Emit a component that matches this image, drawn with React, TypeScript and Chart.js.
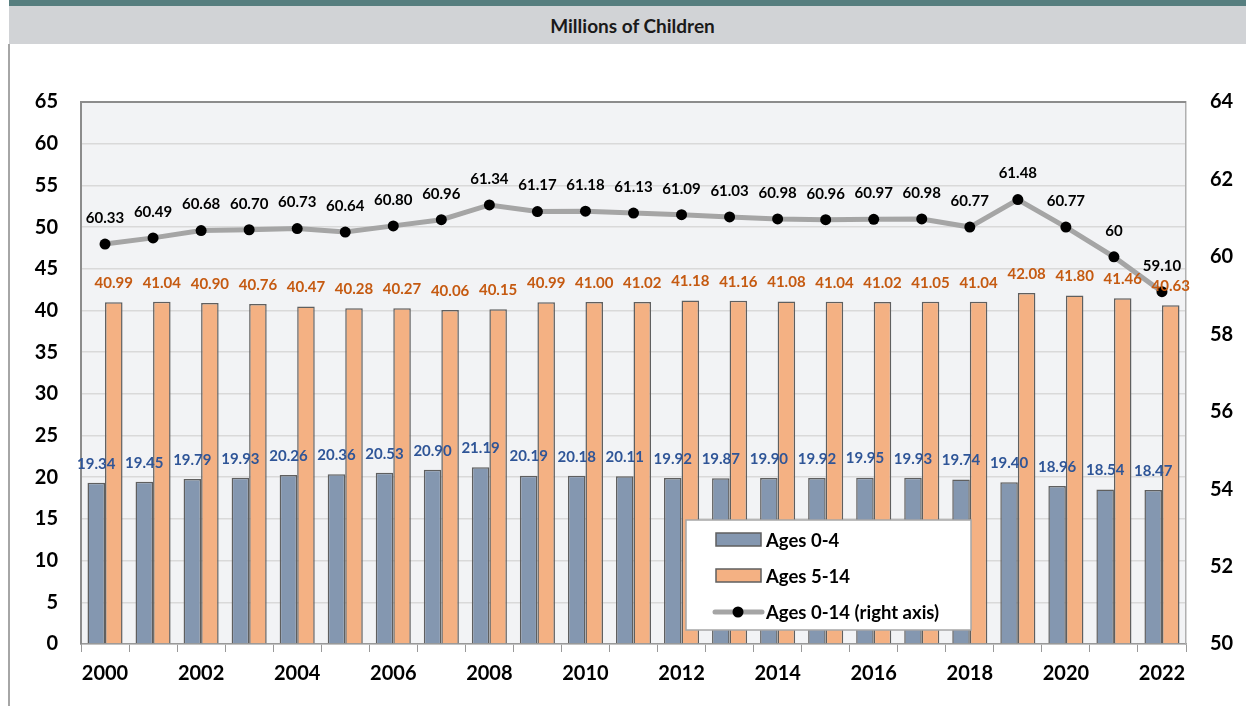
import React, { useEffect, useRef } from "react";
import { Chart, registerables } from "chart.js";

Chart.register(...registerables);

const years = ["2000","2001","2002","2003","2004","2005","2006","2007","2008","2009","2010","2011","2012","2013","2014","2015","2016","2017","2018","2019","2020","2021","2022"];
const ages04 = [19.34,19.45,19.79,19.93,20.26,20.36,20.53,20.90,21.19,20.19,20.18,20.11,19.92,19.87,19.90,19.92,19.95,19.93,19.74,19.40,18.96,18.54,18.47];
const ages514 = [40.99,41.04,40.90,40.76,40.47,40.28,40.27,40.06,40.15,40.99,41.00,41.02,41.18,41.16,41.08,41.04,41.02,41.05,41.04,42.08,41.80,41.46,40.63];
const ages014 = [60.33,60.49,60.68,60.70,60.73,60.64,60.80,60.96,61.34,61.17,61.18,61.13,61.09,61.03,60.98,60.96,60.97,60.98,60.77,61.48,60.77,60,59.10];
const seriesNames = ["Ages 0-4", "Ages 5-14", "Ages 0-14 (right axis)"];
const chartTitle = "Millions of Children";

const FONT = "Lato, 'Open Sans', sans-serif";
const BLUE = "#8497b0";
const ORANGE = "#f4b183";
const LINE = "#a5a5a5";
const BAR_BORDER = "#5f5f5f";

const fmtBar = (v: number) => v.toFixed(2);
const fmtLine = (v: number) => (Number.isInteger(v) ? String(v) : v.toFixed(2));

const plotDecor = {
  id: "plotDecor",
  beforeDraw(chart: any) {
    const { ctx, chartArea: a } = chart;
    ctx.save();
    ctx.fillStyle = "#f2f3f5";
    ctx.fillRect(a.left, a.top, a.right - a.left, a.bottom - a.top);
    ctx.restore();
  },
  beforeDatasetsDraw(chart: any) {
    const { ctx, chartArea: a } = chart;
    ctx.save();
    ctx.strokeStyle = "#8c8c8c";
    ctx.lineWidth = 2;
    ctx.beginPath();
    ctx.moveTo(a.left, a.top);
    ctx.lineTo(a.right, a.top);
    ctx.stroke();
    ctx.restore();
  },
};

const dataLabels = {
  id: "dataLabels",
  afterDatasetsDraw(chart: any) {
    const { ctx } = chart;
    ctx.save();
    ctx.font = `bold 15px ${FONT}`;
    ctx.textAlign = "center";
    ctx.textBaseline = "middle";
    const colors = ["#2f5597", "#c55a11", "#000000"];
    const offsets = [19, 19, 26];
    chart.data.datasets.forEach((ds: any, i: number) => {
      const meta = chart.getDatasetMeta(i);
      const f = i === 2 ? fmtLine : fmtBar;
      meta.data.forEach((el: any, j: number) => {
        ctx.fillStyle = colors[i];
        ctx.fillText(f(ds.data[j]), el.x, el.y - offsets[i]);
      });
    });
    ctx.restore();
  },
};

const legendBox = {
  id: "legendBox",
  afterDraw(chart: any) {
    const { ctx } = chart;
    ctx.save();
    const x = 686, y = 520, w = 285, h = 110;
    ctx.fillStyle = "#ffffff";
    ctx.fillRect(x, y, w, h);
    ctx.strokeStyle = "#a6a6a6";
    ctx.lineWidth = 1.5;
    ctx.strokeRect(x, y, w, h);
    const rows = [540, 576, 612];
    const fills = [BLUE, ORANGE];
    for (let i = 0; i < 2; i++) {
      ctx.fillStyle = fills[i];
      ctx.fillRect(716, rows[i] - 7, 45, 13);
      ctx.strokeStyle = BAR_BORDER;
      ctx.lineWidth = 1.5;
      ctx.strokeRect(716, rows[i] - 7, 45, 13);
    }
    ctx.strokeStyle = LINE;
    ctx.lineWidth = 5;
    ctx.lineCap = "round";
    ctx.beginPath();
    ctx.moveTo(715, rows[2]);
    ctx.lineTo(762, rows[2]);
    ctx.stroke();
    ctx.fillStyle = "#000";
    ctx.beginPath();
    ctx.arc(738, rows[2], 5.5, 0, Math.PI * 2);
    ctx.fill();
    ctx.font = `bold 18.5px ${FONT}`;
    ctx.textAlign = "left";
    ctx.textBaseline = "middle";
    ctx.fillStyle = "#000";
    seriesNames.forEach((n, i) => ctx.fillText(n, 766, rows[i] + 1));
    ctx.restore();
  },
};

export default function App() {
  const ref = useRef<HTMLCanvasElement>(null);
  useEffect(() => {
    if (!ref.current) return;
    const chart = new Chart(ref.current, {
      type: "bar",
      data: {
        labels: years,
        datasets: [
          {
            type: "bar",
            label: seriesNames[0],
            data: ages04,
            backgroundColor: BLUE,
            borderColor: BAR_BORDER,
            borderWidth: 1.5,
            yAxisID: "y",
            order: 1,
            barPercentage: 1,
            categoryPercentage: 0.73,
          },
          {
            type: "bar",
            label: seriesNames[1],
            data: ages514,
            backgroundColor: ORANGE,
            borderColor: BAR_BORDER,
            borderWidth: 1.5,
            yAxisID: "y",
            order: 2,
            barPercentage: 1,
            categoryPercentage: 0.73,
          },
          {
            type: "line",
            label: seriesNames[2],
            data: ages014,
            borderColor: LINE,
            borderWidth: 5,
            pointRadius: 5.5,
            pointBackgroundColor: "#000",
            pointBorderColor: "#000",
            pointBorderWidth: 0,
            yAxisID: "y1",
            order: 0,
            tension: 0,
          } as any,
        ],
      },
      options: {
        responsive: false,
        animation: false,
        devicePixelRatio: 1,
        layout: { padding: { top: 102, left: 0, right: 0, bottom: 0 } },
        plugins: { legend: { display: false }, tooltip: { enabled: false }, title: { display: false } },
        scales: {
          x: {
            offset: true,
            grid: { display: true, drawOnChartArea: false, drawTicks: true, tickLength: 8, color: "#999999", offset: true },
            border: { display: true, color: "#999999", width: 1.5 },
            ticks: {
              autoSkip: false,
              maxRotation: 0,
              padding: 10,
              color: "#000",
              font: { family: FONT, size: 20, weight: "bold" },
              callback: (_v: any, i: number) => (i % 2 === 0 ? years[i] : ""),
            },
            afterFit: (s: any) => { s.height = 62; },
          },
          y: {
            position: "left",
            min: 0,
            max: 65,
            ticks: { stepSize: 5, padding: 23, color: "#000", font: { family: FONT, size: 20, weight: "bold" } },
            grid: { color: "#d9d9d9", lineWidth: 1.5, drawTicks: false },
            border: { display: true, color: "#8c8c8c", width: 2 },
            afterFit: (s: any) => { s.width = 81; },
          },
          y1: {
            position: "right",
            min: 50,
            max: 64,
            ticks: { stepSize: 2, padding: 24, color: "#000", font: { family: FONT, size: 20, weight: "bold" } },
            grid: { display: false, drawTicks: false },
            border: { display: true, color: "#b0b0b0", width: 1.5 },
            afterFit: (s: any) => { s.width = 60; },
          },
        },
      },
      plugins: [plotDecor, dataLabels, legendBox],
    });
    return () => chart.destroy();
  }, []);

  return (
    <div style={{ position: "fixed", left: 0, top: 0, width: 1246, height: 706, background: "#fff", overflow: "hidden" }}>
      <div style={{ position: "absolute", left: 9, top: 0, width: 1237, height: 6, background: "#567e7f" }} />
      <div
        style={{
          position: "absolute", left: 9, top: 6, width: 1237, height: 38, background: "#d1d3d6",
          display: "flex", alignItems: "center", justifyContent: "center",
          fontFamily: FONT, fontWeight: "bold", fontSize: 19, color: "#1a1a1a", paddingLeft: 10, boxSizing: "border-box",
        }}
      >
        {chartTitle}
      </div>
      <div style={{ position: "absolute", left: 8, top: 44, width: 2, height: 662, background: "#a6a6a6" }} />
      <canvas ref={ref} width={1246} height={706} style={{ position: "absolute", left: 0, top: 0 }} />
    </div>
  );
}
